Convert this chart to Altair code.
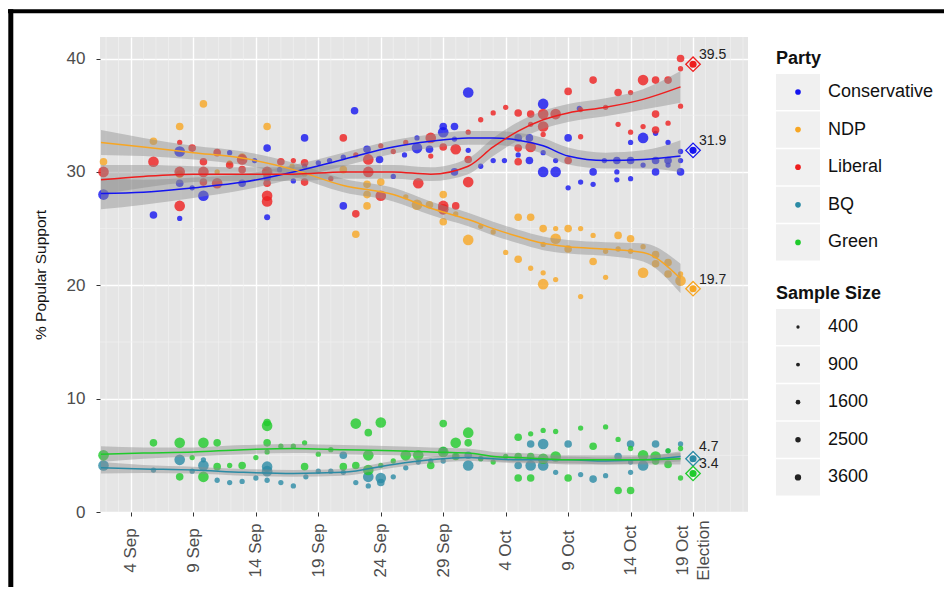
import altair as alt
import pandas as pd

# ---------------- data ----------------
parties = ["Conservative", "NDP", "Liberal", "BQ", "Green"]
party_colors = ["#1414F0", "#F7A623", "#EE1E1E", "#2B8BA5", "#1FCB2B"]

# day = days since 1 Sep 2015 (3 = 4 Sep, 48 = 19 Oct / Election)
cons_day = [0.8, 4.8, 6.9, 6.9, 6.9, 7.9, 8.8, 10.9, 11.9, 12.9, 13.9, 13.9, 13.9, 14.9, 16.0, 16.9, 16.9,
            18.0, 18.9, 20.0, 20.0, 20.9, 21.9, 22.9, 24.0, 24.9, 25.9, 25.9, 26.9, 28.0, 28.0, 28.9, 28.9,
            28.9, 30.0, 30.0, 31.0, 32.0, 32.9, 34.0, 34.0, 34.9, 34.9, 36.0, 36.0, 36.0, 37.0, 37.0, 38.0,
            38.0, 38.9, 39.0, 40.0, 40.0, 40.9, 41.9, 41.9, 41.9, 43.0, 43.0, 43.0, 44.0, 44.0, 45.0, 45.0,
            45.0, 46.0, 46.0, 46.0, 47.0, 47.0, 47.0]
cons_pct = [28.0, 26.2, 31.8, 29.0, 25.9, 28.6, 27.9, 31.7, 29.0, 31.0, 32.1, 29.5, 26.0, 30.2, 29.2, 33.0, 30.5,
            30.8, 31.0, 31.3, 27.0, 35.4, 32.0, 31.1, 29.6, 31.5, 33.0, 32.1, 32.0, 34.0, 33.5, 34.0, 32.9,
            30.0, 37.0, 31.9, 30.5, 31.0, 31.0, 33.0, 31.5, 33.0, 31.0, 36.0, 31.7, 30.0, 30.0, 31.0, 33.0,
            28.6, 35.6, 29.1, 30.0, 28.9, 31.0, 31.0, 30.0, 29.3, 32.6, 31.0, 29.4, 33.0, 30.6, 31.0, 30.0,
            33.4, 32.6, 31.0, 30.6, 31.8, 30.0, 31.0]
cons_n = [2800, 1500, 2800, 1500, 800, 800, 2800, 800, 1500, 800, 1500, 1500, 1000, 800, 800, 1500, 800,
          800, 800, 800, 1500, 1500, 1500, 1500, 800, 800, 800, 2800, 1500, 1500, 2800, 1500, 800,
          1500, 2800, 800, 800, 800, 800, 1500, 800, 1500, 1500, 2800, 800, 2800, 2800, 800, 1500,
          800, 800, 800, 1500, 800, 800, 1500, 800, 800, 800, 1500, 800, 2800, 800, 1500, 1500,
          800, 800, 1500, 800, 800, 1500, 800]

ndp_day = [0.8, 4.8, 6.9, 6.9, 8.8, 9.9, 10.9, 11.9, 13.9, 13.9, 15.9, 16.9, 20.0, 21.0, 21.9, 21.9, 21.9,
           23.0, 25.0, 25.9, 26.9, 28.0, 28.0, 29.0, 30.0, 31.0, 32.0, 33.0, 34.0, 34.0, 35.0, 35.0, 36.0,
           36.0, 36.0, 36.0, 37.0, 37.0, 37.0, 38.0, 38.0, 39.0, 39.0, 40.0, 40.0, 41.0, 41.0, 42.0, 42.0,
           43.0, 43.0, 44.0, 44.0, 45.0, 45.0, 46.0, 46.0, 47.0, 47.0]
ndp_pct = [30.9, 32.7, 34.0, 29.8, 36.0, 30.0, 30.8, 31.3, 34.0, 30.0, 30.5, 29.8, 30.2, 24.5, 28.9, 28.0, 27.0,
           29.1, 27.8, 27.1, 27.1, 28.0, 25.6, 26.3, 24.0, 25.2, 24.7, 22.9, 26.0, 22.3, 26.0, 21.5, 25.0,
           23.6, 21.1, 20.1, 25.0, 24.1, 20.5, 25.0, 23.2, 25.0, 19.0, 24.4, 22.1, 23.0, 20.7, 24.4, 23.2,
           24.1, 23.0, 23.4, 21.1, 22.7, 21.9, 22.0, 21.0, 20.4, 21.0]
ndp_n = [1500, 1500, 1500, 1500, 1500, 800, 800, 1500, 1500, 1500, 800, 800, 1500, 1500, 1500, 1500, 1500,
         1500, 800, 2800, 1500, 1500, 1500, 800, 2800, 800, 800, 800, 1500, 1500, 1500, 800, 1500,
         800, 800, 2800, 800, 2800, 800, 1500, 1500, 800, 800, 800, 1500, 800, 800, 1500, 800,
         1500, 800, 800, 2800, 1500, 1500, 1500, 1500, 2800, 800]

lib_day = [0.8, 4.8, 6.9, 6.9, 6.9, 7.9, 8.8, 8.8, 8.8, 9.9, 9.9, 10.9, 11.9, 11.9, 13.9, 13.9, 13.9, 13.9,
           15.0, 16.0, 16.9, 16.9, 19.0, 20.0, 21.0, 21.0, 22.0, 22.0, 23.0, 23.0, 24.0, 25.0, 26.0, 27.0,
           27.0, 28.0, 28.0, 28.0, 29.0, 29.0, 30.0, 30.0, 30.0, 31.0, 32.0, 33.0, 34.0, 34.0, 34.0, 35.0,
           35.0, 35.0, 36.0, 36.0, 36.0, 37.0, 38.0, 38.0, 39.0, 39.0, 40.0, 41.0, 42.0, 42.0, 43.0, 43.0,
           44.0, 44.0, 45.0, 45.0, 45.0, 46.0, 46.0, 47.0, 47.0, 47.0]
lib_pct = [30.0, 30.9, 32.6, 30.0, 27.0, 32.1, 30.9, 30.0, 29.1, 31.7, 29.0, 30.6, 31.1, 30.2, 30.0, 29.0, 27.9, 27.4,
           30.9, 31.0, 30.8, 29.1, 29.4, 33.0, 31.5, 26.3, 31.1, 30.0, 32.3, 27.9, 31.8, 32.6, 29.0, 33.0,
           31.4, 32.2, 27.0, 26.7, 32.0, 27.0, 33.5, 31.1, 29.1, 34.6, 35.2, 35.7, 35.2, 32.1, 30.9, 35.1,
           34.2, 32.2, 35.1, 34.0, 33.3, 35.1, 37.1, 31.0, 35.5, 33.1, 38.1, 35.7, 37.0, 34.2, 37.0, 33.5,
           38.1, 34.0, 38.1, 35.1, 33.7, 38.1, 34.3, 40.0, 39.1, 35.8]
lib_n = [2800, 2800, 800, 2800, 2800, 1500, 1500, 2800, 1500, 1500, 2800, 1500, 2800, 1500, 2800, 1500, 2800, 2800,
         1500, 800, 1500, 1500, 800, 1500, 800, 1500, 2800, 2800, 800, 2800, 800, 800, 2800, 2800,
         800, 1500, 2800, 2800, 2800, 1500, 800, 1500, 2800, 800, 800, 800, 1500, 1500, 1500, 1500,
         800, 2800, 2800, 2800, 800, 2800, 1500, 1500, 800, 800, 1500, 800, 1500, 800, 800, 800,
         2800, 800, 1500, 1500, 1500, 1500, 800, 1500, 800, 800]

bq_day = [0.8, 4.8, 6.9, 7.9, 8.8, 8.8, 9.9, 10.9, 11.9, 13.0, 13.9, 13.9, 13.9, 15.0, 16.0, 17.0, 18.0,
          19.0, 20.0, 20.0, 21.0, 22.0, 22.0, 23.0, 23.0, 24.0, 25.0, 26.0, 27.0, 28.0, 28.0, 29.0, 30.0,
          30.0, 31.0, 34.0, 35.0, 35.0, 36.0, 36.0, 37.0, 38.0, 39.0, 40.0, 41.0, 42.0, 43.0, 43.0, 43.0,
          44.0, 45.0, 46.0, 47.0]
bq_pct = [4.1, 3.7, 4.6, 3.6, 4.1, 4.6, 2.8, 2.6, 2.7, 3.0, 4.0, 3.6, 2.8, 2.6, 2.3, 3.1, 3.6,
          3.6, 5.0, 3.5, 2.6, 3.1, 2.3, 3.0, 2.6, 3.1, 3.9, 4.4, 4.5, 5.4, 4.5, 4.9, 5.0,
          4.1, 4.7, 4.1, 6.0, 4.1, 6.0, 4.1, 3.5, 6.0, 3.3, 2.9, 3.2, 4.9, 6.0, 4.4, 3.5,
          4.1, 6.0, 5.4, 6.0]
bq_n = [2800, 800, 2800, 800, 2800, 800, 800, 800, 800, 800, 2800, 2800, 800, 800, 800, 800, 800,
        800, 1500, 800, 800, 2800, 800, 2800, 1500, 800, 800, 800, 800, 1500, 800, 800, 1500,
        2800, 800, 1500, 1500, 2800, 2800, 2800, 800, 1500, 800, 1500, 800, 1500, 1500, 800, 800,
        2800, 1500, 800, 800]

grn_day = [0.8, 4.8, 6.9, 6.9, 7.9, 8.8, 8.8, 9.9, 9.9, 10.9, 11.9, 13.0, 13.9, 13.9, 13.9, 13.9, 15.0,
           16.0, 16.9, 16.9, 18.0, 19.0, 20.0, 21.0, 21.0, 22.0, 22.0, 22.0, 23.0, 23.0, 24.0, 25.0, 26.0,
           27.0, 28.0, 28.0, 29.0, 29.0, 30.0, 30.0, 31.0, 32.0, 33.0, 34.0, 34.0, 34.0, 35.0, 35.0, 35.0,
           36.0, 36.0, 37.0, 37.0, 38.0, 39.0, 40.0, 41.0, 42.0, 42.0, 43.0, 43.0, 44.0, 45.0, 45.0, 46.0,
           46.0, 47.0, 47.0]
grn_pct = [5.0, 6.1, 6.1, 3.1, 4.8, 6.1, 3.1, 6.1, 4.0, 4.1, 4.1, 4.8, 7.9, 7.6, 6.1, 5.3, 5.8,
           5.8, 6.1, 4.0, 5.1, 5.5, 4.0, 7.8, 4.1, 7.0, 5.0, 3.7, 7.9, 4.1, 4.5, 5.0, 5.0,
           4.1, 7.8, 5.3, 6.1, 4.9, 7.0, 6.1, 4.7, 4.4, 4.9, 6.6, 4.9, 3.0, 6.9, 4.9, 3.0,
           7.2, 4.7, 7.1, 4.9, 3.0, 7.4, 5.8, 7.5, 6.4, 1.9, 1.9, 5.6, 5.0, 4.9, 4.5, 4.2,
           5.4, 3.0, 5.6]
grn_n = [2800, 1500, 2800, 1500, 800, 2800, 2800, 1500, 1500, 800, 1500, 800, 1500, 2800, 1500, 800, 800,
         800, 800, 1500, 800, 800, 1500, 2800, 1500, 1500, 2800, 2800, 2800, 800, 800, 2800, 2800,
         1500, 1500, 2800, 2800, 1500, 2800, 1500, 800, 800, 800, 1500, 1500, 1500, 800, 1500, 1500,
         800, 2800, 800, 2800, 1500, 800, 1500, 800, 800, 1500, 1500, 800, 2800, 2800, 1500, 1500,
         800, 800, 800]

# smoothed trend and half-width of its confidence band
smooth_days = [0.6, 4, 8, 12, 16, 20, 24, 27, 30, 32, 34, 36, 38, 41, 44, 47]
cons_fit = [28.1, 28.2, 28.6, 29.1, 30.0, 31.1, 32.2, 32.7, 33.0, 33.0, 32.8, 32.3, 31.4, 31.0, 31.1, 31.4]
cons_se = [1.4, 1.1, 0.9, 0.7, 0.6, 0.6, 0.6, 0.6, 0.6, 0.6, 0.65, 0.7, 0.75, 0.7, 0.8, 1.4]
ndp_fit = [32.6, 32.2, 31.7, 31.2, 30.2, 28.8, 28.0, 26.8, 25.8, 25.0, 24.3, 23.7, 23.4, 23.2, 22.9, 20.6]
ndp_se = [1.1, 0.8, 0.6, 0.6, 0.6, 0.6, 0.6, 0.6, 0.6, 0.6, 0.6, 0.6, 0.6, 0.6, 0.8, 1.3]
lib_fit = [29.3, 29.6, 29.8, 29.8, 29.8, 30.0, 30.0, 29.8, 30.5, 32.2, 33.6, 34.6, 35.2, 35.7, 36.4, 37.5]
lib_se = [1.3, 1.0, 0.7, 0.6, 0.6, 0.6, 0.6, 0.6, 0.7, 0.8, 0.8, 0.8, 0.8, 0.8, 0.9, 1.4]
bq_fit = [3.9, 3.8, 3.7, 3.5, 3.4, 3.5, 4.2, 4.6, 4.8, 4.7, 4.6, 4.6, 4.6, 4.5, 4.6, 4.9]
bq_se = [0.5, 0.35, 0.3, 0.3, 0.3, 0.3, 0.3, 0.3, 0.3, 0.3, 0.3, 0.3, 0.3, 0.3, 0.3, 0.45]
grn_fit = [5.1, 5.2, 5.3, 5.5, 5.6, 5.5, 5.4, 5.3, 5.2, 4.9, 4.8, 4.7, 4.6, 4.6, 4.6, 4.7]
grn_se = [0.7, 0.5, 0.4, 0.4, 0.4, 0.4, 0.4, 0.4, 0.4, 0.4, 0.4, 0.4, 0.4, 0.4, 0.4, 0.5]

election_day = 48
election_pct = [31.9, 19.7, 39.5, 4.7, 3.4]

major_days = [3, 8, 13, 18, 23, 28, 33, 38, 43, 48]
y_ticks = [0, 10, 20, 30, 40]
size_breaks = [400, 900, 1600, 2500, 3600]

# ---------------- tables ----------------
poll_sets = {
    "Conservative": (cons_day, cons_pct, cons_n),
    "NDP": (ndp_day, ndp_pct, ndp_n),
    "Liberal": (lib_day, lib_pct, lib_n),
    "BQ": (bq_day, bq_pct, bq_n),
    "Green": (grn_day, grn_pct, grn_n),
}
fit_sets = {
    "Conservative": (cons_fit, cons_se),
    "NDP": (ndp_fit, ndp_se),
    "Liberal": (lib_fit, lib_se),
    "BQ": (bq_fit, bq_se),
    "Green": (grn_fit, grn_se),
}
polls = pd.concat([pd.DataFrame({"party": p, "day": d, "pct": v, "n": n})
                   for p, (d, v, n) in poll_sets.items()], ignore_index=True)
fits = pd.concat([pd.DataFrame({"party": p, "day": smooth_days, "fit": f,
                                "lo": [a - b for a, b in zip(f, s)],
                                "hi": [a + b for a, b in zip(f, s)]})
                  for p, (f, s) in fit_sets.items()], ignore_index=True)
elec = pd.DataFrame({"party": parties, "day": election_day, "pct": election_pct,
                     "label": [f"{v:.1f}" for v in election_pct]})

minor_x = pd.DataFrame({"day": [d for d in range(1, 53) if d not in major_days]})
minor_y = pd.DataFrame({"pct": [5, 15, 25, 35]})

FONT = "Liberation Sans"
W, H = 648, 475
XDOM = [0.52, 52.4]
YDOM = [0.0, 41.9]

color = alt.Color("party:N", scale=alt.Scale(domain=parties, range=party_colors), legend=None)
xs = alt.Scale(domain=XDOM, nice=False, zero=False)
ys = alt.Scale(domain=YDOM, nice=False, zero=False)

label_expr = ("datum.value == 48 ? ['19 Oct', 'Election'] : "
              "(datum.value < 30 ? (datum.value + 1) + ' Sep' : (datum.value - 29) + ' Oct')")

x_axis = alt.Axis(values=major_days, labelExpr=label_expr, labelAngle=270, labelAlign="center",
                  labelBaseline="middle", labelPadding=34, labelLineHeight=21, tickSize=4,
                  labelOffset={"condition": {"test": "datum.value == 48", "value": -11}, "value": 0},
                  tickColor="#333333", labelFontSize=17, labelColor="#4D4D4D", labelFont=FONT,
                  domain=False, grid=True, gridColor="white", gridWidth=1.4, title=None,
                  labelOverlap=False, labelFlush=False)
y_axis = alt.Axis(values=y_ticks, tickSize=4, tickColor="#333333", labelPadding=11, labelFontSize=17,
                  labelColor="#4D4D4D", labelFont=FONT, domain=False, grid=True, gridColor="white",
                  gridWidth=1.4, title="% Popular Support", titleFontSize=15.5, titleFontWeight="normal",
                  titleColor="#111111", titleFont=FONT, titleAngle=270, titleX=-60, titleY=H / 2,
                  titleAlign="center", titleBaseline="middle")

gx = alt.Chart(minor_x).mark_rule(color="#F0F0F0", strokeWidth=0.7).encode(
    x=alt.X("day:Q", scale=xs, axis=x_axis))
gy = alt.Chart(minor_y).mark_rule(color="#F0F0F0", strokeWidth=0.7).encode(
    y=alt.Y("pct:Q", scale=ys, axis=y_axis))

pts = alt.Chart(polls).mark_circle(opacity=0.8).encode(
    x=alt.X("day:Q", scale=xs, axis=x_axis),
    y=alt.Y("pct:Q", scale=ys, axis=y_axis),
    color=color,
    size=alt.Size("n:Q", scale=alt.Scale(domain=[400, 3600], range=[11, 147]), legend=None),
)
band = alt.Chart(fits).mark_area(color="#8F8F8F", opacity=0.45, interpolate="monotone").encode(
    x=alt.X("day:Q", scale=xs, axis=x_axis),
    y=alt.Y("lo:Q", scale=ys, axis=y_axis),
    y2="hi:Q",
    detail="party:N",
)
line = alt.Chart(fits).mark_line(strokeWidth=1.5, interpolate="monotone").encode(
    x=alt.X("day:Q", scale=xs, axis=x_axis),
    y=alt.Y("fit:Q", scale=ys, axis=y_axis),
    color=color,
)
dia = alt.Chart(elec).mark_point(shape="diamond", filled=False, size=210, strokeWidth=1.3, opacity=1).encode(
    x=alt.X("day:Q", scale=xs, axis=x_axis), y=alt.Y("pct:Q", scale=ys, axis=y_axis), color=color)
dot = alt.Chart(elec).mark_circle(size=50, opacity=1).encode(
    x=alt.X("day:Q", scale=xs, axis=x_axis), y=alt.Y("pct:Q", scale=ys, axis=y_axis), color=color)
lab_main = alt.Chart(elec).transform_filter("datum.party != 'BQ'").mark_text(
    align="left", baseline="middle", dx=6, dy=-9, fontSize=14, font=FONT, color="#222222").encode(
    x=alt.X("day:Q", scale=xs, axis=x_axis), y=alt.Y("pct:Q", scale=ys, axis=y_axis), text="label:N")
lab_bq = alt.Chart(elec).transform_filter("datum.party == 'BQ'").mark_text(
    align="left", baseline="middle", dx=6, dy=-12, fontSize=14, font=FONT, color="#222222").encode(
    x=alt.X("day:Q", scale=xs, axis=x_axis), y=alt.Y("pct:Q", scale=ys, axis=y_axis), text="label:N")

main = alt.layer(gx, gy, pts, band, line, dia, dot, lab_main, lab_bq)

# ---------------- legend (drawn from party / size lists) ----------------
leg_party = pd.DataFrame({"label": parties, "party": parties, "row": [float(i) for i in range(5)]})
leg_size = pd.DataFrame({"label": [str(s) for s in size_breaks], "n": size_breaks,
                         "row": [6.25 + i for i in range(5)]})
leg_titles = pd.DataFrame({"label": ["Party", "Sample Size"], "row": [-0.88, 5.37]})
leg_keys = pd.DataFrame({"row": list(leg_party["row"]) + list(leg_size["row"])})
leg_keys["top"] = leg_keys["row"] - 0.48
leg_keys["bot"] = leg_keys["row"] + 0.48

ly = alt.Scale(domain=[0, 10], range=[55, 431])
keys = alt.Chart(leg_keys).mark_rect(color="#F0F0F0").encode(
    x=alt.value(676), x2=alt.value(720),
    y=alt.Y("top:Q", scale=ly, axis=None), y2="bot:Q")
pdots = alt.Chart(leg_party).mark_circle(size=32, opacity=1).encode(
    x=alt.value(698), y=alt.Y("row:Q", scale=ly, axis=None),
    color=alt.Color("party:N", scale=alt.Scale(domain=parties, range=party_colors), legend=None))
sdots = alt.Chart(leg_size).mark_circle(color="#222222", opacity=1).encode(
    x=alt.value(698), y=alt.Y("row:Q", scale=ly, axis=None),
    size=alt.Size("n:Q", scale=alt.Scale(domain=[400, 3600], range=[11, 40]), legend=None))
ptxt = alt.Chart(leg_party).mark_text(align="left", baseline="middle", fontSize=18, font=FONT,
                                      color="#111111").encode(
    x=alt.value(728), y=alt.Y("row:Q", scale=ly, axis=None), text="label:N")
stxt = alt.Chart(leg_size).mark_text(align="left", baseline="middle", fontSize=18, font=FONT,
                                     color="#111111").encode(
    x=alt.value(728), y=alt.Y("row:Q", scale=ly, axis=None), text="label:N")
ttxt = alt.Chart(leg_titles).mark_text(align="left", baseline="middle", fontSize=18, font=FONT,
                                       fontWeight="bold", color="#111111").encode(
    x=alt.value(676), y=alt.Y("row:Q", scale=ly, axis=None), text="label:N")

one = pd.DataFrame({"k": [0]})
frame_top = alt.Chart(one).mark_rule(color="black", strokeWidth=4).encode(
    x=alt.value(-92), x2=alt.value(844), y=alt.value(-25.7))
frame_left = alt.Chart(one).mark_rule(color="black", strokeWidth=5).encode(
    x=alt.value(-89.2), y=alt.value(-27.7), y2=alt.value(560))

legend = alt.layer(keys, pdots, sdots, ptxt, stxt, ttxt, frame_top, frame_left)

chart = alt.layer(main, legend).resolve_scale(
    x="independent", y="independent", color="independent", size="independent"
).properties(
    width=W, height=H,
    padding={"left": 92, "top": 29, "right": 196, "bottom": 75},
    autosize=alt.AutoSizeParams(type="none"),
    background="white",
).configure_view(fill="#E5E5E5", stroke=None)

chart.save("out.html", embed_options={"renderer": "svg", "actions": False})
